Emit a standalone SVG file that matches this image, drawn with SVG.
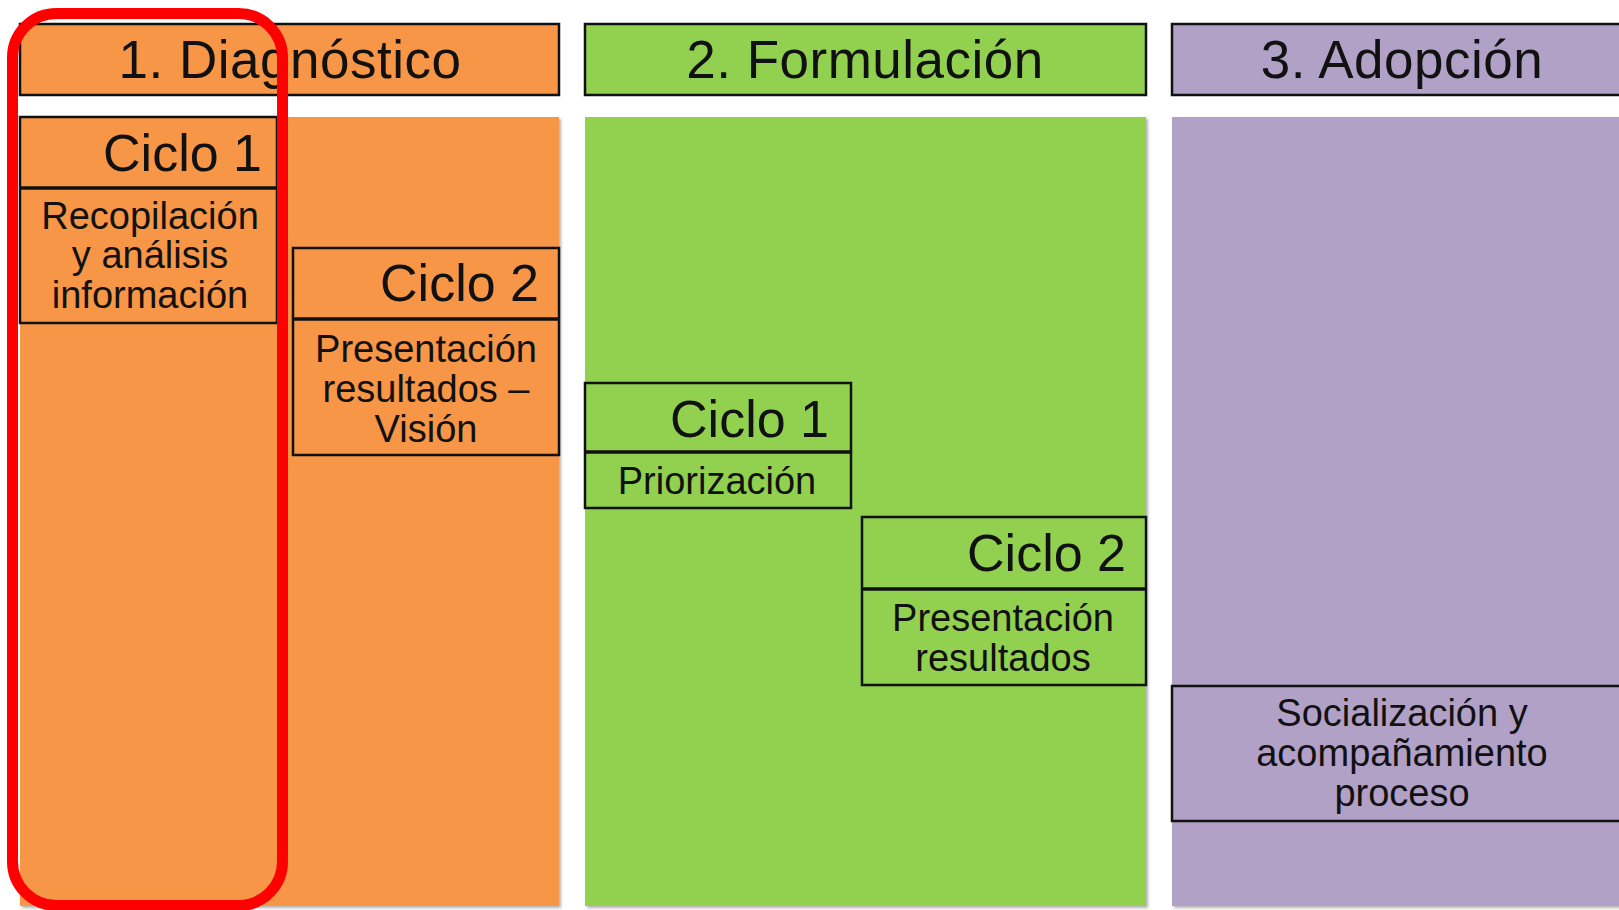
<svg xmlns="http://www.w3.org/2000/svg" width="1619" height="910" viewBox="0 0 1619 910">
<defs>
<filter id="sh" x="-5%" y="-5%" width="110%" height="110%">
<feDropShadow dx="2" dy="2" stdDeviation="1.5" flood-color="#000" flood-opacity="0.3"/>
</filter>
</defs>
<style>
text{font-family:"Liberation Sans",Arial,sans-serif;fill:#111;}
.h{font-size:53px;text-anchor:middle;}
.c{font-size:52px;text-anchor:end;}
.b{font-size:38px;text-anchor:middle;}
.box{stroke:#111;stroke-width:2.5;}
.div{stroke:#111;stroke-width:3.5;}
.o{fill:#F79646;}
.g{fill:#92D050;}
.p{fill:#B2A1C7;}
</style>
<rect width="1619" height="910" fill="#fff"/>

<g id="col-diagnostico">
<rect class="o" x="20" y="117" width="539" height="789" filter="url(#sh)"/>
<rect class="o box" x="20" y="24" width="539" height="71"/>
<text class="h" x="290" y="78" letter-spacing="0.5">1. Diagnóstico</text>
</g>
<g id="col-formulacion">
<rect class="g" x="585" y="117" width="561" height="789" filter="url(#sh)"/>
<rect class="g box" x="585" y="24" width="561" height="71"/>
<text class="h" x="865" y="78" letter-spacing="0.5">2. Formulación</text>
</g>
<g id="col-adopcion">
<rect class="p" x="1172" y="117" width="460" height="789" filter="url(#sh)"/>
<rect class="p box" x="1172" y="24" width="460" height="71"/>
<text class="h" x="1402" y="78" letter-spacing="0.5">3. Adopción</text>
</g>

<g id="diag-ciclo1">
<rect class="o box" x="20" y="117" width="257" height="206"/>
<line class="div" x1="20" y1="188" x2="277" y2="188"/>
<text class="c" x="262" y="171">Ciclo 1</text>
<text class="b" x="150" y="229">Recopilación</text>
<text class="b" x="150" y="268">y análisis</text>
<text class="b" x="150" y="308">información</text>
</g>
<g id="diag-ciclo2">
<rect class="o box" x="293" y="248" width="266" height="207"/>
<line class="div" x1="293" y1="319" x2="559" y2="319"/>
<text class="c" x="539" y="301">Ciclo 2</text>
<text class="b" x="426" y="362">Presentación</text>
<text class="b" x="426" y="402">resultados –</text>
<text class="b" x="426" y="442">Visión</text>
</g>
<g id="form-ciclo1">
<rect class="g box" x="585" y="383" width="266" height="125"/>
<line class="div" x1="585" y1="452" x2="851" y2="452"/>
<text class="c" x="829" y="437">Ciclo 1</text>
<text class="b" x="717" y="494">Priorización</text>
</g>
<g id="form-ciclo2">
<rect class="g box" x="862" y="517" width="284" height="168"/>
<line class="div" x1="862" y1="589" x2="1146" y2="589"/>
<text class="c" x="1126" y="571">Ciclo 2</text>
<text class="b" x="1003" y="631">Presentación</text>
<text class="b" x="1003" y="671">resultados</text>
</g>
<g id="adop-socializacion">
<rect class="p box" x="1172" y="686" width="460" height="135"/>
<text class="b" x="1402" y="726">Socialización y</text>
<text class="b" x="1402" y="766">acompañamiento</text>
<text class="b" x="1402" y="806">proceso</text>
</g>

<g id="highlight">
<rect x="12.5" y="13.5" width="270" height="892" rx="44" ry="44" fill="none" stroke="#FF0000" stroke-width="11"/>
</g>
<g id="connectors"></g>
</svg>
